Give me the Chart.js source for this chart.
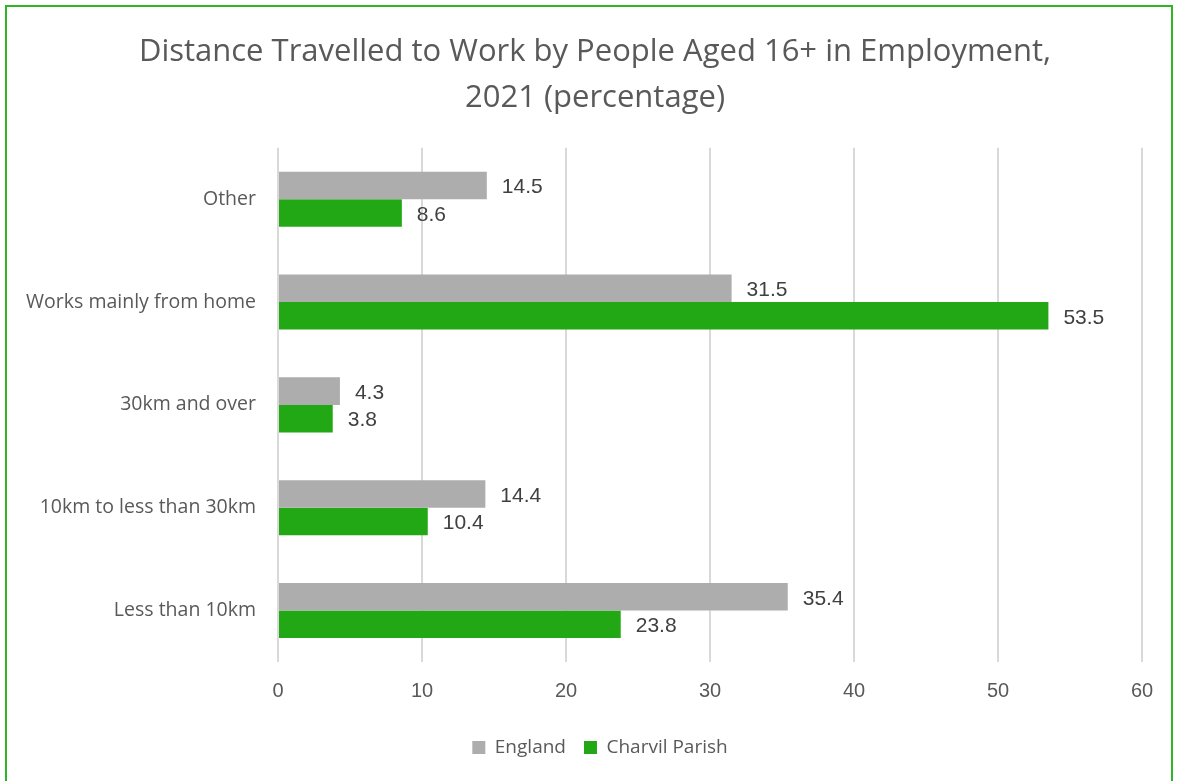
<!DOCTYPE html>
<html>
<head>
<meta charset="utf-8">
<script src="https://cdn.jsdelivr.net/npm/chart.js@4"></script>
<style>
  html, body { margin: 0; padding: 0; background: #fff; }
  #wrap { position: relative; width: 1177px; height: 781px; }
  #frame { position: absolute; left: 5px; top: 5px; width: 1168px; height: 780px; border: 2px solid #2db523; box-sizing: border-box; pointer-events: none; }
</style>
</head>
<body>
<div id="wrap">
  <canvas id="chart" width="1177" height="781"></canvas>
  <div id="frame"></div>
</div>
<script>
// categories top to bottom
const categories = ['Other', 'Works mainly from home', '30km and over', '10km to less than 30km', 'Less than 10km'];
const englandValues = [14.5, 31.5, 4.3, 14.4, 35.4];
const charvilValues = [8.6, 53.5, 3.8, 10.4, 23.8];
const xTicks = [0, 10, 20, 30, 40, 50, 60];

// Draw value labels at the end of each bar
const valueLabels = {
  id: 'valueLabels',
  afterDatasetsDraw(chart) {
    const ctx = chart.ctx;
    ctx.save();
    ctx.font = '21px "Liberation Sans", Arial, sans-serif';
    ctx.fillStyle = '#404040';
    ctx.textAlign = 'left';
    ctx.textBaseline = 'middle';
    chart.data.datasets.forEach((ds, i) => {
      chart.getDatasetMeta(i).data.forEach((bar, j) => {
        ctx.fillText(ds.data[j].toFixed(1), bar.x + 15, bar.y + 2);
      });
    });
    ctx.restore();
  }
};

// Title and legend are centred a bit right of the canvas centre in the original
const shiftBlocks = {
  id: 'shiftBlocks',
  afterLayout(chart) {
    if (chart.titleBlock) chart.titleBlock.left = 48;
    if (chart.legend) chart.legend.left = 58;
  }
};

new Chart(document.getElementById('chart'), {
  type: 'bar',
  data: {
    labels: categories,
    datasets: [{
      label: 'England',
      data: englandValues,
      backgroundColor: '#adadad',
      borderWidth: 0,
      barPercentage: 1,
      categoryPercentage: 0.535
    }, {
      label: 'Charvil Parish',
      data: charvilValues,
      backgroundColor: '#21a814',
      borderWidth: 0,
      barPercentage: 1,
      categoryPercentage: 0.535
    }]
  },
  options: {
    indexAxis: 'y',
    responsive: false,
    animation: false,
    layout: { padding: { left: 0, right: 35, top: 29, bottom: 14 } },
    scales: {
      x: {
        min: 0,
        max: 60,
        afterBuildTicks: axis => { axis.ticks = xTicks.map(v => ({ value: v })); },
        grid: { color: '#d9d9d9', lineWidth: 2, drawTicks: false },
        border: { display: false },
        ticks: {
          color: '#595959',
          padding: 17,
          font: { family: '"Liberation Sans", Arial, sans-serif', size: 20 }
        }
      },
      y: {
        afterFit: axis => { axis.width = 278; },
        grid: { display: false },
        border: { display: false },
        ticks: {
          color: '#595959',
          padding: 14,
          font: { family: '"Open Sans", sans-serif', size: 19.5 }
        }
      }
    },
    plugins: {
      title: {
        display: true,
        text: ['Distance Travelled to Work by People Aged 16+ in Employment,', '2021 (percentage)'],
        color: '#595959',
        font: { family: '"Open Sans", sans-serif', size: 31, weight: 'normal', lineHeight: 1.48 },
        padding: { top: 0, bottom: 27 }
      },
      legend: {
        position: 'bottom',
        labels: {
          color: '#595959',
          boxWidth: 13,
          boxHeight: 13,
          padding: 18,
          font: { family: '"Open Sans", sans-serif', size: 19 }
        }
      },
      tooltip: { enabled: false }
    }
  },
  plugins: [valueLabels, shiftBlocks]
});
</script>
</body>
</html>
